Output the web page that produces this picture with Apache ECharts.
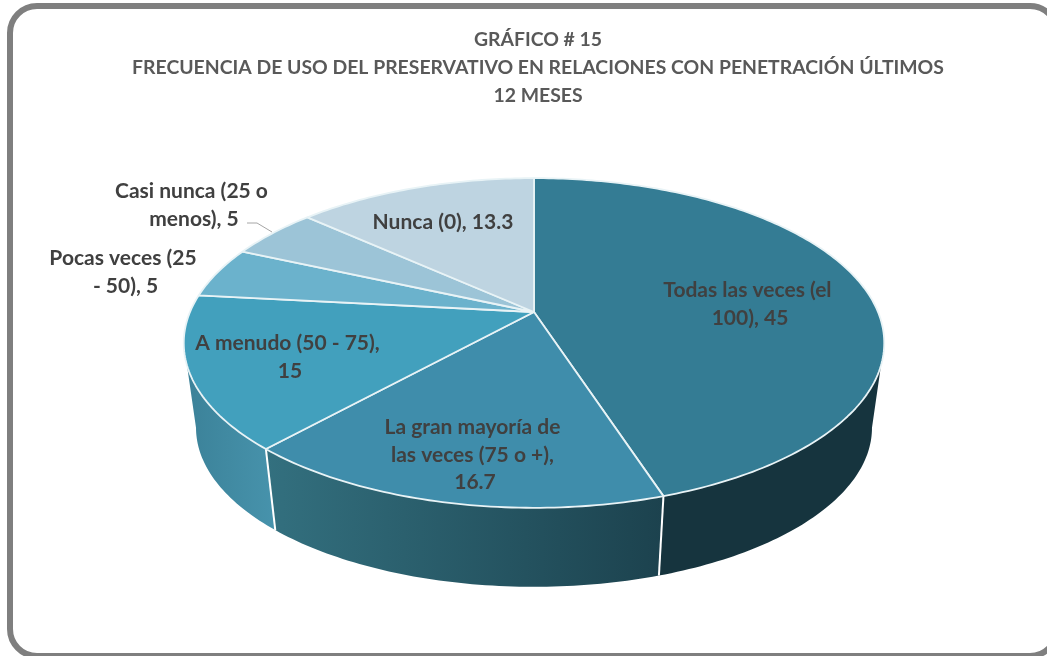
<!DOCTYPE html>
<html>
<head>
<meta charset="utf-8">
<style>
  html, body { margin: 0; padding: 0; background: #fff; overflow: hidden; }
  #chart { width: 1047px; height: 656px; }
</style>
</head>
<body>
<div id="chart"></div>
<script src="https://cdn.jsdelivr.net/npm/echarts@6/dist/echarts.min.js"></script>
<script>
const categories = [
  "Todas las veces (el 100)",
  "La gran mayoría de las veces (75 o +)",
  "A menudo (50 - 75)",
  "Pocas veces (25 - 50)",
  "Casi nunca (25 o menos)",
  "Nunca (0)",
];
const values = [45, 16.7, 15, 5, 5, 13.3];
const titleLines = [
  "GRÁFICO # 15",
  "FRECUENCIA DE USO DEL PRESERVATIVO EN RELACIONES CON PENETRACIÓN ÚLTIMOS",
  "12 MESES",
];

const topColors = ["#347c94", "#3f8dab", "#42a0bd", "#6bb2cc", "#9cc4d7", "#bed4e1"];
const sideColors = [
  ["#16343e", "#16343e"],
  ["#33707f", "#1c424e"],
  ["#3b8198", "#4793ac"],
  ["#4793ac", "#4793ac"],
  ["#6aa5bb", "#6aa5bb"],
  ["#8fb2c2", "#8fb2c2"],
];
// label centre and wrap width, in page pixels
const labelPlaces = [
  [750, 304, 190],
  [475, 455, 205],
  [290, 357, 195],
  [123, 272, 152],
  [194, 205, 170],
  [443, 222, 170],
];

const chart = echarts.init(document.getElementById("chart"));

// the disc is seen in perspective: the near edge is stretched
const tilt = -0.188;
const floorScale = 0.965;
const floorDrop = 0.54;
// the wall only shows between the two points where the outline turns back
const wallFrom = Math.acos(tilt);
const wallTo = Math.PI * 2 - wallFrom;

const total = values.reduce((sum, v) => sum + v, 0);
const startAngle = (i) =>
  (values.slice(0, i).reduce((sum, v) => sum + v, 0) / total) * Math.PI * 2;

const onDisc = (angle, floor) => {
  const u = Math.sin(angle);
  const v = -Math.cos(angle);
  const d = 1 + tilt * v;
  return floor
    ? [(u / d) * floorScale, (v / d) * floorScale + floorDrop]
    : [u / d, v / d];
};

const arc = (api, from, to, floor) => {
  const pts = [];
  const steps = Math.max(4, Math.ceil((to - from) * 60));
  for (let s = 0; s <= steps; s++) {
    pts.push(api.coord(onDisc(from + ((to - from) * s) / steps, floor)));
  }
  return pts;
};

const renderSide = (params, api) => {
  const i = params.dataIndex;
  const from = Math.max(startAngle(i), wallFrom);
  const to = Math.min(startAngle(i + 1), wallTo);
  if (to <= from) return null;
  const top = arc(api, from, to, false);
  const floor = arc(api, from, to, true);
  return {
    type: "polygon",
    shape: { points: top.concat(floor.reverse()) },
    style: {
      fill: new echarts.graphic.LinearGradient(0, 0, 1, 0, [
        { offset: 0, color: sideColors[i][0] },
        { offset: 1, color: sideColors[i][1] },
      ]),
    },
  };
};

const renderSeam = (params, api) => {
  const a = startAngle(params.dataIndex);
  if (a <= wallFrom || a >= wallTo) return null;
  const p1 = api.coord(onDisc(a, false));
  const p2 = api.coord(onDisc(a, true));
  return {
    type: "line",
    shape: { x1: p1[0], y1: p1[1], x2: p2[0], y2: p2[1] },
    style: { stroke: "#fff", lineWidth: 2 },
  };
};

const renderTop = (params, api) => {
  const i = params.dataIndex;
  const points = arc(api, startAngle(i), startAngle(i + 1), false);
  points.unshift(api.coord([0, 0]));
  return {
    type: "polygon",
    shape: { points },
    style: { fill: topColors[i], stroke: "#e8f3f6", lineWidth: 1.8, lineJoin: "round" },
  };
};

const renderLabel = (params, api) => {
  const i = params.dataIndex;
  return {
    type: "text",
    x: labelPlaces[i][0],
    y: labelPlaces[i][1],
    style: {
      text: `${categories[i]}, ${values[i]}`,
      width: labelPlaces[i][2],
      overflow: "break",
      fill: "#404040",
      font: "bold 21px Lato",
      lineHeight: 27.5,
      align: "center",
      verticalAlign: "middle",
    },
  };
};

const disc = (name, renderItem, z) => ({
  name,
  type: "custom",
  coordinateSystem: "cartesian2d",
  renderItem,
  data: values,
  silent: true,
  clip: false,
  z,
  animation: false,
});

const option = {
  animation: false,
  backgroundColor: "#fff",
  title: {
    text: titleLines.join("\n"),
    left: 533,
    top: 21,
    textAlign: "center",
    textStyle: {
      fontFamily: "Lato",
      fontWeight: "bold",
      fontSize: 19.4,
      lineHeight: 28,
      color: "#595959",
    },
  },
  grid: { left: 190, top: 153, width: 688, height: 318 },
  xAxis: { type: "value", min: -1, max: 1, show: false },
  yAxis: { type: "value", min: -1, max: 1, inverse: true, show: false },
  graphic: [
    {
      type: "rect",
      silent: true,
      shape: { x: 10, y: 6, width: 1047, height: 650, r: 27 },
      style: { fill: "#fff", stroke: "#7f7f7f", lineWidth: 6 },
      z: -10,
    },
    {
      type: "polyline",
      silent: true,
      shape: { points: [[247, 223], [257, 223], [272, 232]] },
      style: { stroke: "#a6a6a6", lineWidth: 1, fill: null },
      z: 5,
    },
  ],
  series: [
    disc("side", renderSide, 2),
    disc("seam", renderSeam, 3),
    disc("top", renderTop, 4),
    disc("labels", renderLabel, 6),
  ],
};

chart.setOption(option);
</script>
</body>
</html>
